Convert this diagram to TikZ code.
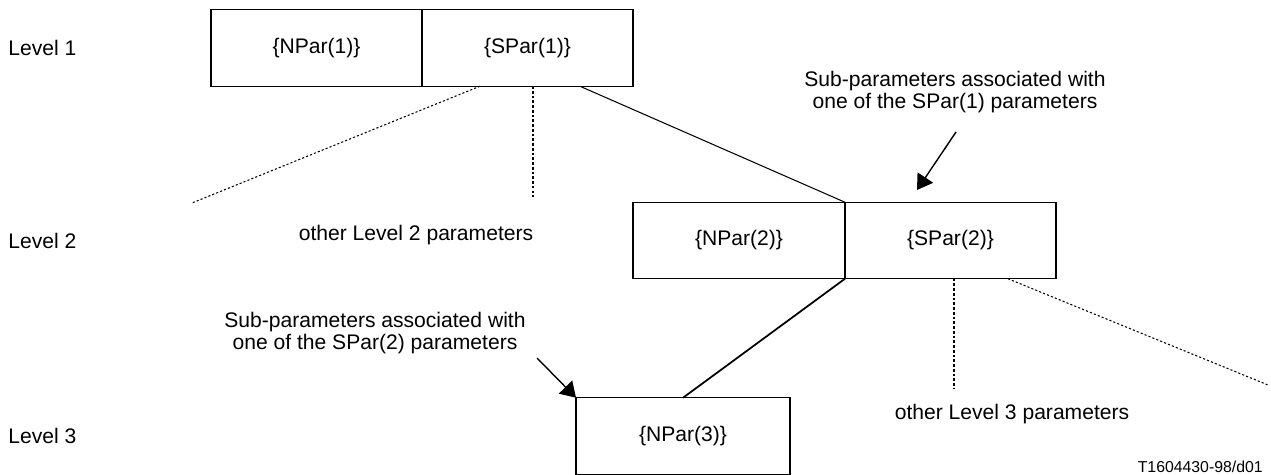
\documentclass[tikz,border=0pt]{standalone}
\usepackage{fontspec}
\setmainfont{Liberation Sans}
\usetikzlibrary{positioning,arrows.meta}
\newcommand{\partxt}{\fontsize{12}{13}\selectfont}
\newcommand{\figtxt}{\fontsize{9}{10}\selectfont}
\tikzset{
  parbox/.style={draw, rectangle, line width=0.8pt, minimum height=1.53cm, outer sep=0pt, inner sep=0pt},
  levelname/.style={anchor=west, inner sep=0pt},
  link/.style={line width=0.6pt},
  dotline/.style={line width=0.6pt, dash pattern=on 1.2pt off 1.2pt},
  vdotline/.style={line width=1.1pt, dash pattern=on 1.5pt off 1.2pt},
  pointer/.style={line width=0.8pt, -{Triangle[length=0.3cm,width=0.37cm]}}
}

\begin{document}
\begin{tikzpicture}[x=0.02cm, y=-0.02cm, font=\partxt]
    \useasboundingbox (0,0) rectangle (1271,475);
    % levels
    \node[levelname] (lev1) at (8,48) {Level 1};
    \node[levelname] (lev2) at (8,240.5) {Level 2};
    \node[levelname] (lev3) at (8,436) {Level 3};
    % parameter boxes
    \node[parbox, minimum width=4.22cm] (npar1) at (316.5,48) {\{NPar(1)\}};
    \node[parbox, minimum width=4.22cm, right=0pt of npar1] (spar1) {\{SPar(1)\}};
    \node[parbox, minimum width=4.24cm] (npar2) at (739,240.5) {\{NPar(2)\}};
    \node[parbox, minimum width=4.22cm, right=0pt of npar2] (spar2) {\{SPar(2)\}};
    \node[parbox, minimum width=4.28cm] (npar3) at (683,436) {\{NPar(3)\}};
    % other parameters
    \node (other2) at (416,235) {other Level 2 parameters};
    \node (other3) at (1012,414) {other Level 3 parameters};
    \coordinate (far2) at (192,203);
    \coordinate (end2) at (533,197);
    \coordinate (end3) at (954,388);
    \coordinate (far3) at (1268,385);
    \draw[dotline] ([xshift=-0.95cm]spar1.south) -- (far2);
    \draw[vdotline] (end2 |- spar1.south) -- (end2);
    \draw[link] ([xshift=1.05cm]spar1.south) -- (npar2.north east);
    \draw[link, line width=1pt] (npar2.south east) -- (npar3.north);
    \draw[vdotline] (end3 |- spar2.south) -- (end3);
    \draw[dotline] ([xshift=1.15cm]spar2.south) -- (far3);
    % sub-parameter notes
    \node[align=center] (note1) at (955,92) {Sub-parameters associated with\\one of the SPar(1) parameters};
    \node[align=center] (note2) at (375,333) {Sub-parameters associated with\\one of the SPar(2) parameters};
    \coordinate (tail1) at (956,132);
    \coordinate (tip1) at (917,190);
    \coordinate (tail2) at (537,358);
    \draw[pointer] (tail1) -- (tip1);
    \draw[pointer] (tail2) -- (npar3.north west);
    \node[anchor=east, inner sep=0pt, font=\figtxt] (figno) at (1263,467) {T1604430-98/d01};
\end{tikzpicture}
\end{document}
